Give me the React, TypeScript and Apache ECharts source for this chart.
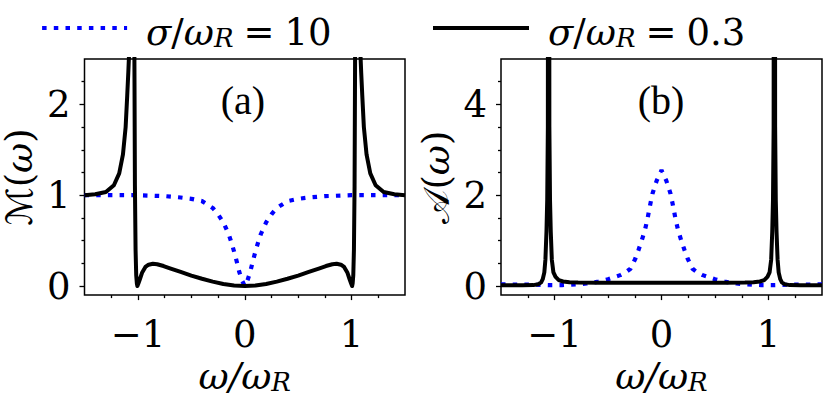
import React, { useEffect, useRef } from 'react';
import * as echarts from 'echarts';

const SERIF = 'DejaVu Serif';
const TITLE_FONT = 'Liberation Serif';
const SCRIPT = 'DejaVu Sans';

// ---- Panel (a): M(omega) ----
const aX10 = [-1.5, -1.25, -1.0, -0.75, -0.6, -0.5, -0.4, -0.3, -0.25, -0.2, -0.15, -0.125, -0.1, -0.075, -0.05, -0.025, 0, 0.025, 0.05, 0.075, 0.1, 0.125, 0.15, 0.2, 0.25, 0.3, 0.4, 0.5, 0.6, 0.75, 1.0, 1.25, 1.5];
const aM10 = [1.0, 1.0, 1.0, 0.99, 0.975, 0.96, 0.935, 0.86, 0.79, 0.70, 0.57, 0.48, 0.38, 0.27, 0.15, 0.06, 0.0, 0.06, 0.15, 0.27, 0.38, 0.48, 0.57, 0.70, 0.79, 0.86, 0.935, 0.96, 0.975, 0.99, 1.0, 1.0, 1.0];

const aX03 = [-1.5, -1.4, -1.3, -1.225, -1.175, -1.14, -1.115, -1.1, -1.09, -1.083, -1.07, -1.058, -1.045, -1.033, -1.028, -1.022, -1.016, -1.01, -1.005, -0.995, -0.98, -0.96, -0.93, -0.9, -0.86, -0.82, -0.76, -0.7, -0.6, -0.5, -0.4, -0.3, -0.2, -0.1, 0, 0.1, 0.2, 0.3, 0.4, 0.5, 0.6, 0.7, 0.76, 0.82, 0.86, 0.9, 0.93, 0.96, 0.98, 0.995, 1.005, 1.01, 1.016, 1.022, 1.028, 1.033, 1.045, 1.058, 1.07, 1.083, 1.09, 1.1, 1.115, 1.14, 1.175, 1.225, 1.3, 1.4, 1.5];
const aM03 = [1.0, 1.01, 1.035, 1.11, 1.24, 1.45, 1.75, 2.1, 2.35, 2.55, 6, 20, 6, 2.55, 1.1, 0.4, 0.12, 0.03, 0.0, 0.03, 0.08, 0.15, 0.21, 0.235, 0.245, 0.24, 0.22, 0.195, 0.155, 0.115, 0.08, 0.048, 0.022, 0.006, 0, 0.006, 0.022, 0.048, 0.08, 0.115, 0.155, 0.195, 0.22, 0.24, 0.245, 0.235, 0.21, 0.15, 0.08, 0.03, 0.0, 0.03, 0.12, 0.4, 1.1, 2.55, 6, 20, 6, 2.55, 2.35, 2.1, 1.75, 1.45, 1.24, 1.11, 1.035, 1.01, 1.0];

// ---- Panel (b): A(omega) ----
const bX10 = [-1.5, -1.2, -1.05, -0.93, -0.8, -0.7, -0.6, -0.5, -0.45, -0.385, -0.33, -0.29, -0.245, -0.214, -0.185, -0.155, -0.13, -0.11, -0.085, -0.045, 0, 0.045, 0.085, 0.11, 0.13, 0.155, 0.185, 0.214, 0.245, 0.29, 0.33, 0.385, 0.45, 0.5, 0.6, 0.7, 0.8, 0.93, 1.05, 1.2, 1.5];
const bA10 = [0.035, 0.03, 0.02, 0.02, 0.035, 0.055, 0.09, 0.15, 0.19, 0.24, 0.31, 0.38, 0.6, 0.8, 1.0, 1.23, 1.49, 1.74, 2.03, 2.32, 2.55, 2.32, 2.03, 1.74, 1.49, 1.23, 1.0, 0.8, 0.6, 0.38, 0.31, 0.24, 0.19, 0.15, 0.09, 0.055, 0.035, 0.02, 0.02, 0.03, 0.035];

const bX03 = [-1.5, -1.3, -1.2, -1.15, -1.125, -1.11, -1.095, -1.085, -1.075, -1.068, -1.062, -1.055, -1.048, -1.042, -1.035, -1.025, -1.01, -0.99, -0.96, -0.92, -0.86, -0.78, -0.6, -0.3, 0, 0.3, 0.6, 0.78, 0.86, 0.92, 0.96, 0.99, 1.01, 1.025, 1.035, 1.042, 1.048, 1.055, 1.062, 1.068, 1.075, 1.085, 1.095, 1.11, 1.125, 1.15, 1.2, 1.3, 1.5];
const bA03 = [0.015, 0.015, 0.02, 0.04, 0.08, 0.15, 0.3, 0.58, 1.2, 1.9, 3.5, 30, 3.5, 1.9, 1.2, 0.58, 0.3, 0.2, 0.13, 0.1, 0.085, 0.075, 0.07, 0.07, 0.07, 0.07, 0.07, 0.075, 0.085, 0.1, 0.13, 0.2, 0.3, 0.58, 1.2, 1.9, 3.5, 30, 3.5, 1.9, 1.2, 0.58, 0.3, 0.15, 0.08, 0.04, 0.02, 0.015, 0.015];

// ---- Ticks ----
const X_MAJOR = [-1, 0, 1];
const X_MINOR = [-1.25, -0.75, -0.5, -0.25, 0.25, 0.5, 0.75, 1.25];
const YA_MAJOR = [0, 1, 2];
const YA_MINOR = [0.25, 0.5, 0.75, 1.25, 1.5, 1.75, 2.25];
const YB_MAJOR = [0, 2, 4];
const YB_MINOR = [0.5, 1, 1.5, 2.5, 3, 3.5, 4.5];

const NAME10 = 'σ/ω_R = 10';
const NAME03 = 'σ/ω_R = 0.3';
const PANEL_LABELS = ['(a)', '(b)'];

const FS = 37;
const LH = 46;
const base = { fontFamily: SERIF, fontSize: FS, lineHeight: LH, verticalAlign: 'bottom', color: '#000', fontWeight: 'normal' };
const RICH: any = {
  a: { ...base, fontStyle: 'italic', padding: [0, 0, 0, 14] },
  i: { ...base, fontStyle: 'italic' },
  n: { ...base, fontStyle: 'normal' },
  e: { ...base, fontStyle: 'normal', padding: [0, 10, 0, 10] },
  s: { ...base, fontStyle: 'italic', fontSize: 26, lineHeight: 27 },
};
const baseY = { fontFamily: SERIF, fontSize: FS, lineHeight: 38, verticalAlign: 'middle', color: '#000', fontWeight: 'normal' };
const RICH_Y: any = {
  c: { ...baseY, fontFamily: SCRIPT, fontStyle: 'normal', fontSize: 36 },
  n: { ...baseY, fontStyle: 'normal' },
  i: { ...baseY, fontStyle: 'italic' },
};

const pts = (xs: number[], ys: number[]) => xs.map((x, i) => [x, ys[i]]);
const fmtNum = (v: number) => (v < 0 ? '\u2212' + Math.abs(v) : String(v));

const tickStyle = { color: '#000', width: 1.3 };
const labelStyle = { color: '#000', fontFamily: SERIF, fontSize: FS, fontWeight: 'normal', fontStyle: 'normal' };

function xAxes(gridIndex: number) {
  return [
    {
      type: 'value', gridIndex, min: -1.5, max: 1.5, position: 'bottom',
      axisLine: { show: false, onZero: false }, splitLine: { show: false },
      axisTick: { show: true, customValues: X_MAJOR, length: 5, lineStyle: tickStyle },
      axisLabel: { customValues: X_MAJOR, formatter: fmtNum, margin: 21, ...labelStyle },
      name: '{i|ω/ω}{s|R}', nameLocation: 'middle', nameGap: 46,
      nameTextStyle: { ...labelStyle, rich: RICH },
    },
    {
      type: 'value', gridIndex, min: -1.5, max: 1.5, position: 'bottom',
      axisLine: { show: false, onZero: false }, splitLine: { show: false }, axisLabel: { show: false },
      axisTick: { show: true, customValues: X_MINOR, length: 3, lineStyle: tickStyle },
    },
  ];
}

function yAxes(gridIndex: number, min: number, max: number, major: number[], minor: number[], name: string) {
  return [
    {
      type: 'value', gridIndex, min, max, position: 'left',
      axisLine: { show: false, onZero: false }, splitLine: { show: false },
      axisTick: { show: true, customValues: major, length: 5, lineStyle: tickStyle },
      axisLabel: { customValues: major, formatter: fmtNum, margin: 14, ...labelStyle },
      name, nameLocation: 'middle', nameGap: 46, nameRotate: 90,
      nameTextStyle: { ...labelStyle, rich: RICH_Y },
    },
    {
      type: 'value', gridIndex, min, max, position: 'left',
      axisLine: { show: false, onZero: false }, splitLine: { show: false }, axisLabel: { show: false },
      axisTick: { show: true, customValues: minor, length: 3, lineStyle: tickStyle },
    },
  ];
}

const blueStyle = { color: '#0000ff', width: 4.2, type: [4.5, 7.2], cap: 'butt' };
const blackStyle = { color: '#000000', width: 4, type: 'solid', join: 'round' };

const legendFmt = (name: string) =>
  name === NAME10 ? '{a|σ}{n|/}{i|ω}{s|R}{e|=}{n|10}' : '{a|σ}{n|/}{i|ω}{s|R}{e|=}{n|0.3}';

const legendCommon = {
  top: 14, padding: 0, itemHeight: 20, formatter: legendFmt,
  itemStyle: { color: 'transparent', borderColor: 'transparent', borderWidth: 0, opacity: 0 },
  textStyle: { ...labelStyle, rich: RICH },
};

const option: any = {
  animation: false,
  backgroundColor: '#ffffff',
  textStyle: { fontFamily: SERIF, color: '#000' },
  grid: [
    { left: 82, right: 426, top: 59, bottom: 101, show: true, borderColor: '#000', borderWidth: 1.5, backgroundColor: 'transparent' },
    { left: 501, right: 9, top: 59, bottom: 101, show: true, borderColor: '#000', borderWidth: 1.5, backgroundColor: 'transparent' },
  ],
  legend: [
    { ...legendCommon, data: [NAME10], left: 40, itemWidth: 85, lineStyle: { width: 4.2, type: [4.5, 7.2], cap: 'butt', color: '#0000ff' } },
    { ...legendCommon, data: [NAME03], left: 431, itemWidth: 96, lineStyle: { width: 4, type: 'solid', color: '#000' } },
  ],
  xAxis: [...xAxes(0), ...xAxes(1)],
  yAxis: [
    ...yAxes(0, -0.1, 2.5, YA_MAJOR, YA_MINOR, '{c|ℳ}{n|(}{i|ω}{n|)}'),
    ...yAxes(1, -0.2, 5, YB_MAJOR, YB_MINOR, '{c|𝒜}{n|(}{i|ω}{n|)}'),
  ],
  graphic: [
    { type: 'text', x: 243, y: 100, style: { text: PANEL_LABELS[0], fontFamily: TITLE_FONT, fontSize: 40, fill: '#000', align: 'center', verticalAlign: 'middle' } },
    { type: 'text', x: 661, y: 100, style: { text: PANEL_LABELS[1], fontFamily: TITLE_FONT, fontSize: 40, fill: '#000', align: 'center', verticalAlign: 'middle' } },
  ],
  series: [
    { type: 'line', name: NAME10, xAxisIndex: 0, yAxisIndex: 0, data: pts(aX10, aM10), symbol: 'none', lineStyle: blueStyle, itemStyle: { color: '#0000ff' }, z: 2 },
    { type: 'line', name: NAME03, xAxisIndex: 0, yAxisIndex: 0, data: pts(aX03, aM03), symbol: 'none', lineStyle: blackStyle, itemStyle: { color: '#000' }, z: 3 },
    { type: 'line', name: NAME10, xAxisIndex: 2, yAxisIndex: 2, data: pts(bX10, bA10), symbol: 'none', lineStyle: blueStyle, itemStyle: { color: '#0000ff' }, z: 2 },
    { type: 'line', name: NAME03, xAxisIndex: 2, yAxisIndex: 2, data: pts(bX03, bA03), symbol: 'none', lineStyle: blackStyle, itemStyle: { color: '#000' }, z: 3 },
  ],
};

export default function App() {
  const ref = useRef<HTMLDivElement>(null);
  useEffect(() => {
    document.body.style.margin = '0';
    const chart = echarts.init(ref.current as HTMLDivElement, null, { renderer: 'svg' });
    chart.setOption(option);
    return () => chart.dispose();
  }, []);
  return <div ref={ref} style={{ width: 831, height: 400 }} />;
}
